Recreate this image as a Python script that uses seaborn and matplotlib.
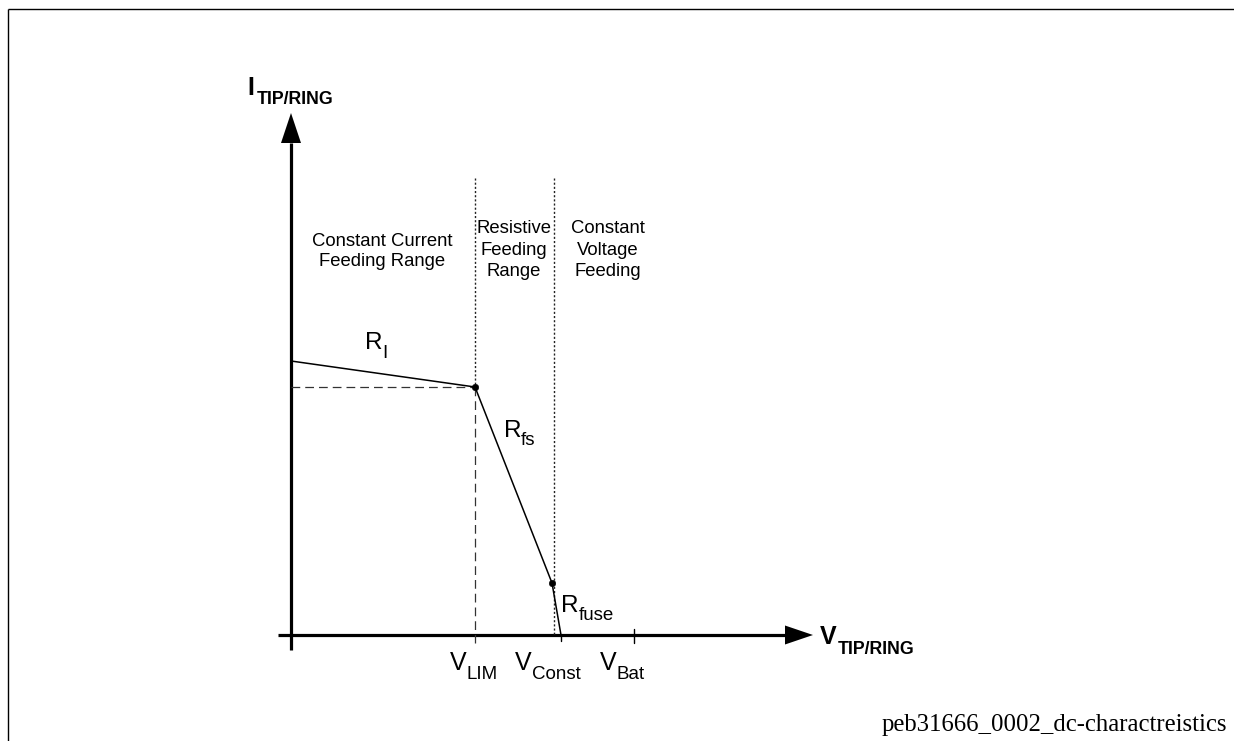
import matplotlib
matplotlib.use("Agg")
import matplotlib.pyplot as plt
import seaborn as sns
import pandas as pd

# ---- data (diagram units: origin at axis crossing) ----
v_curve = [0, 184, 261, 270]          # V_TIP/RING along the characteristic
i_curve = [274, 248, 52, 0]           # I_TIP/RING along the characteristic
knee_v = [184, 261]                   # V_LIM knee and V_Const knee
knee_i = [248, 52]
v_lim = 184
i_lim = 248
v_const_line = 263
v_tick_pos = [270, 343]               # tick marks on the V axis
region_boundaries = [184, 263]
region_labels = [["Constant Current", "Feeding Range"],
                 ["Resistive", "Feeding", "Range"],
                 ["Constant", "Voltage", "Feeding"]]
region_centers = [91, 223, 317]
v_labels = [("V", "LIM"), ("V", "Const"), ("V", "Bat")]
v_label_pos = [159, 224, 309]
footer = "peb31666_0002_dc-charactreistics"

sns.set_style("white")
plt.rcParams['font.family'] = ['Liberation Sans', 'DejaVu Sans']
plt.rcParams['text.color'] = 'black'

fig = plt.figure(figsize=(12.34, 7.41), dpi=100)
ax = fig.add_axes([0, 0, 1, 1])
ax.set_xlim(-291, 943)
ax.set_ylim(-106, 635)
ax.axis("off")

# frame
ax.plot([-283, 943], [626, 626], color="black", lw=1.0, solid_capstyle="butt")
ax.plot([-283, -283], [626, -106], color="black", lw=1.0, solid_capstyle="butt")

# axes with arrows
ax.plot([0, 0], [-15, 492], color="black", lw=2.3, solid_capstyle="butt")
ax.fill([-10, 10, 0], [492, 492, 522], color="black", lw=0)
ax.plot([-13, 494], [0, 0], color="black", lw=2.3, solid_capstyle="butt")
ax.fill([494, 494, 522], [9.5, -9.5, 0], color="black", lw=0)

# dotted region boundaries
ax.plot([region_boundaries[0]] * 2, [457, i_lim], color="#222222", lw=1.0, ls=(0, (1.5, 1.5)))
ax.plot([region_boundaries[1]] * 2, [457, 0], color="#222222", lw=1.0, ls=(0, (1.5, 1.5)))

# dashed guide lines to V_LIM / I_LIM
ax.plot([0, v_lim], [i_lim, i_lim], color="#333333", lw=0.9, ls=(0, (7, 4)))
ax.plot([v_lim, v_lim], [i_lim, -8], color="#333333", lw=0.9, ls=(0, (7, 4)))

# ticks
ax.plot([v_tick_pos[0]] * 2, [0, -6], color="black", lw=1.0)
ax.plot([v_tick_pos[1]] * 2, [6, -8], color="black", lw=1.0)

# characteristic curve
df = pd.DataFrame({"V": v_curve, "I": i_curve})
sns.lineplot(data=df, x="V", y="I", sort=False, color="black", lw=1.1, ax=ax)
sns.scatterplot(x=knee_v, y=knee_i, color="black", s=22, edgecolor="black", ax=ax, zorder=5)

# region labels
baselines = {2: [389, 369], 3: [402, 380, 359]}
for labels, cx in zip(region_labels, region_centers):
    for line, by in zip(labels, baselines[len(labels)]):
        ax.text(cx, by, line, ha="center", va="baseline", fontsize=13.3)

# axis titles
ax.text(-44, 540, "I", fontsize=18, fontweight="bold", va="baseline", ha="left")
ax.text(-34, 531, "TIP/RING", fontsize=12.8, fontweight="bold", va="baseline", ha="left")
ax.text(529, -9, "V", fontsize=18, fontweight="bold", va="baseline", ha="left")
ax.text(547, -19, "TIP/RING", fontsize=12.8, fontweight="bold", va="baseline", ha="left")

# V labels
for (main, sub), x in zip(v_labels, v_label_pos):
    ax.text(x, -35, main, fontsize=18, va="baseline", ha="left")
    ax.text(x + 17, -44, sub, fontsize=13.5, va="baseline", ha="left")

# resistance labels
ax.text(74, 286, "R", fontsize=17.5, va="baseline", ha="left")
ax.text(91, 277, "I", fontsize=13.5, va="baseline", ha="left")
ax.text(213, 198, "R", fontsize=17.5, va="baseline", ha="left")
ax.text(230, 190, "fs", fontsize=13.5, va="baseline", ha="left")
ax.text(270, 23, "R", fontsize=17.5, va="baseline", ha="left")
ax.text(288, 15, "fuse", fontsize=13.5, va="baseline", ha="left")

# footer
ax.text(936, -96, footer, fontsize=17.8, family=["Liberation Serif", "DejaVu Serif"],
        va="baseline", ha="right")

fig.savefig("out.png", dpi=100, facecolor="white")
